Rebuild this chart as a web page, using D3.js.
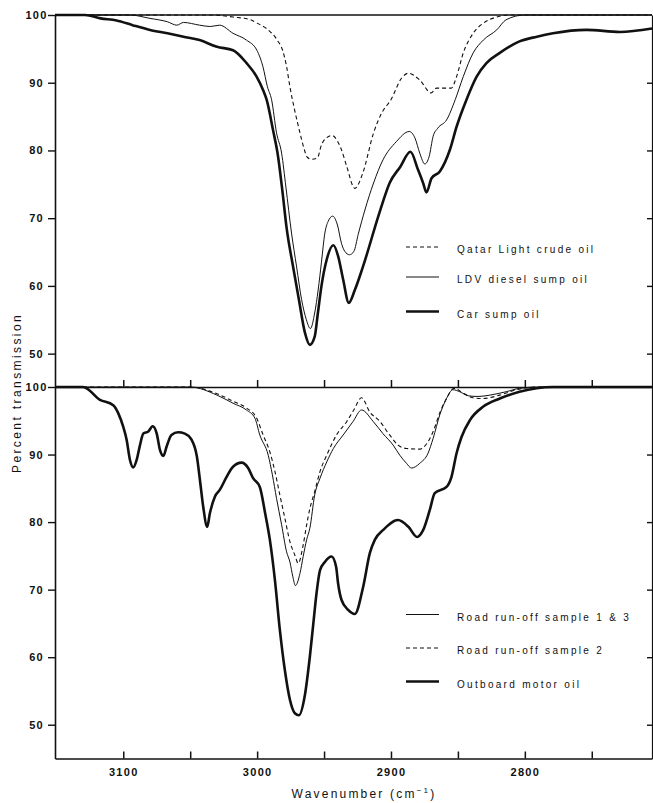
<!DOCTYPE html>
<html>
<head>
<meta charset="utf-8">
<script src="https://cdn.jsdelivr.net/npm/d3@7"></script>
<style>
  body { margin: 0; background: #fff; }
  svg { display: block; }
  text { font-family: "Liberation Sans", Arial, sans-serif; fill: #111; }
</style>
</head>
<body>
<div id="chart"></div>
<script>
// [wavenumber cm-1, percent transmission]
const qatarCrude = [
  [3151, 100], [3033, 100], [3018, 99.7], [3005, 99.3], [3000, 98.8], [2993, 98.0],
  [2985, 96.3], [2981, 94.8], [2978, 92.4], [2975.5, 89.4], [2972, 86.0], [2968, 82.6],
  [2965, 80.3], [2962.5, 79.0], [2959.3, 78.7], [2955, 78.9], [2952, 80.8], [2948, 81.9],
  [2944, 82.2], [2940, 81.4], [2937, 80.1], [2933, 77.6], [2927, 74.4], [2921, 76.7],
  [2913, 82.6], [2907, 85.5], [2900, 87.5], [2892, 90.7], [2887, 91.4], [2878.5, 90.4],
  [2870, 88.5], [2866, 89.2], [2855, 89.2], [2851, 90.9], [2846, 94.4], [2838.6, 97.3],
  [2831, 98.8], [2821, 99.7], [2811, 100], [2705, 100]
];
const ldvDieselSump = [
  [3151, 100], [3095, 100], [3080, 99.5], [3067, 99.0], [3060, 98.5], [3055, 98.9],
  [3043, 98.5], [3035, 98.3], [3028, 98.5], [3018, 97.3], [3008, 96.3], [3000.2, 94.8],
  [2995.7, 92.4], [2992.3, 89.4], [2989.2, 87.5], [2985.5, 82.6], [2981.7, 79.6], [2978.5, 74.6],
  [2974.3, 67.8], [2970.5, 62.8], [2966.8, 58.0], [2963.2, 55.0], [2960.2, 53.7], [2957, 56.0],
  [2954.4, 59.4], [2952, 63.4], [2949.4, 67.8], [2947, 69.5], [2943.6, 70.3], [2940, 69.0],
  [2937, 66.3], [2934.5, 65.1], [2931, 64.6], [2927.7, 65.1], [2924.5, 67.6], [2919.5, 71.2],
  [2913, 75.2], [2906, 78.6], [2896, 81.3], [2886.4, 82.8], [2882, 81.8], [2878.5, 79.6],
  [2874.7, 78.0], [2871.5, 79.1], [2868.5, 82.1], [2865, 83.3], [2858.5, 84.5], [2852, 87.5],
  [2846, 90.9], [2838.6, 94.4], [2831, 96.3], [2821, 97.8], [2814, 99.3], [2800, 100],
  [2705, 100]
];
const carSump = [
  [3151, 100], [3128.6, 100], [3117, 99.5], [3105, 99.2], [3093, 98.5], [3080, 97.8],
  [3067, 97.3], [3055, 96.8], [3043, 96.3], [3030, 95.3], [3018, 94.8], [3007.9, 92.9],
  [3000.4, 90.9], [2995.5, 88.9], [2992.9, 87.5], [2988, 82.9], [2984.5, 79.3], [2981, 73.8],
  [2978, 68.6], [2973.1, 62.8], [2968.8, 58.0], [2964.3, 53.1], [2960.6, 51.3], [2957, 52.5],
  [2954.6, 56.0], [2952, 59.9], [2948, 63.9], [2943, 66.0], [2939.5, 64.4], [2935.7, 60.9],
  [2931.5, 57.5], [2927, 59.4], [2921, 62.8], [2908, 71.2], [2901, 75.2], [2893, 77.6],
  [2885.5, 79.8], [2879.7, 77.1], [2876, 75.2], [2873.5, 73.8], [2869.7, 75.9], [2863.5, 76.9],
  [2856, 80.1], [2851, 83.5], [2843.6, 87.5], [2836, 90.9], [2828.7, 92.9], [2818.7, 94.4],
  [2804, 96.1], [2791, 96.8], [2779, 97.3], [2754, 97.8], [2729, 97.5], [2705, 98.0]
];

const roadRunoff13 = [
  [3151, 100], [3050, 100], [3030, 98.8], [3018, 97.6], [3008, 96.6], [3001.7, 95.4],
  [2998, 92.9], [2991.7, 89.9], [2988.6, 87.0], [2985.5, 83.5], [2981.7, 79.6], [2978, 75.6],
  [2975.5, 74.1], [2973.3, 71.9], [2971.4, 70.6], [2968, 72.4], [2965.6, 74.9], [2963, 77.4],
  [2960.6, 79.1], [2957, 84.0], [2953, 86.5], [2948, 88.9], [2943, 90.9], [2935.7, 92.9],
  [2928.3, 94.9], [2922, 96.6], [2913.3, 94.9], [2906, 93.1], [2898.4, 91.4], [2893.4, 89.9],
  [2888.4, 88.7], [2884.7, 88.0], [2878.5, 88.7], [2872.3, 90.2], [2868.5, 92.4], [2863.5, 95.9],
  [2858.5, 98.3], [2853.8, 99.6], [2848.6, 99.3], [2842.4, 98.7], [2835, 98.6], [2826, 98.8],
  [2814, 99.3], [2804, 99.8], [2789, 100], [2705, 100]
];
const roadRunoff2 = [
  [3151, 100], [3050, 100], [3030, 99.0], [3018, 97.9], [3008, 96.9], [3000.4, 95.4],
  [2995.5, 92.9], [2990.5, 90.4], [2986.7, 87.5], [2983, 84.0], [2979.3, 80.6], [2975.5, 77.1],
  [2971.8, 75.1], [2969.3, 73.9], [2965.6, 76.6], [2963, 79.6], [2960.6, 82.0], [2957, 84.5],
  [2953, 87.5], [2948, 89.9], [2940.7, 92.9], [2933, 94.9], [2927.8, 96.6], [2922, 98.4],
  [2915.8, 96.3], [2908.3, 94.9], [2901, 92.9], [2894.7, 91.4], [2888.4, 90.9], [2878.5, 90.8],
  [2873, 91.7], [2868.5, 93.4], [2863.5, 96.2], [2858.5, 98.3], [2853, 99.8], [2846, 99.1],
  [2838.6, 98.4], [2831, 98.3], [2818.7, 98.8], [2806, 99.6], [2789, 100], [2705, 100]
];
const outboardMotor = [
  [3151, 100], [3130, 100], [3117.4, 98.1], [3107.5, 97.3], [3103.7, 96.1], [3100, 94.1],
  [3097.5, 92.2], [3095, 89.2], [3092.5, 88.1], [3090, 89.2], [3087.5, 91.4], [3085, 93.1],
  [3081.3, 93.4], [3078, 94.2], [3075, 93.1], [3072.6, 90.7], [3070, 89.8], [3067.6, 91.2],
  [3064, 92.9], [3059, 93.3], [3054, 93.1], [3049, 92.2], [3045, 89.7], [3042.7, 86.2],
  [3040.3, 82.3], [3037.3, 79.3], [3035.3, 81.3], [3031.5, 83.8], [3027.8, 84.8], [3022.8, 86.7],
  [3018, 88.2], [3011.6, 88.8], [3006.7, 88.0], [3003, 86.5], [2998, 85.2], [2994, 81.3],
  [2990.5, 77.4], [2986.7, 71.4], [2983, 64.0], [2979.3, 58.1], [2975.5, 53.7], [2971.8, 51.7],
  [2968.8, 51.4], [2964.3, 54.4], [2960.6, 60.1], [2958, 65.0], [2955.6, 69.5], [2953, 72.9],
  [2949.4, 74.1], [2944.4, 74.9], [2941, 73.4], [2939.5, 70.9], [2937, 68.5], [2932, 67.0],
  [2927, 66.4], [2920.8, 70.4], [2915.8, 75.4], [2912, 77.4], [2906, 78.8], [2894.7, 80.3],
  [2887, 79.3], [2880.5, 77.8], [2876, 78.8], [2871, 81.8], [2867.3, 84.3], [2858.5, 85.2],
  [2854.8, 86.7], [2851, 90.2], [2847.3, 92.6], [2841, 95.1], [2831, 97.1], [2818.7, 98.3],
  [2804, 99.3], [2779, 100], [2705, 100]
];

const yTicks = [50, 60, 70, 80, 90, 100];
const yRightTicks = [50, 60, 70, 80, 90];
const xTicks = [3100, 3050, 3000, 2950, 2900, 2850, 2800, 2750];
const xLabels = [3100, 3000, 2900, 2800];

const topLegend = ["Qatar Light crude oil", "LDV diesel sump oil", "Car sump oil"];
const bottomLegend = ["Road run-off sample 1 & 3", "Road run-off sample 2", "Outboard motor oil"];

const width = 653, height = 803;
const left = 55, right = 652;
const ink = "#111";

// line looks
const dashed = { w: 1.1, dash: "4,3" };
const thin = { w: 1, dash: null };
const thick = { w: 2.6, dash: null };

const svg = d3.select("#chart").append("svg")
  .attr("width", width)
  .attr("height", height);

const x = d3.scaleLinear().domain([3151, 2705]).range([left, right]);
const yTop = d3.scaleLinear().domain([45, 100]).range([387.5, 15]);
const yBot = d3.scaleLinear().domain([45, 100]).range([758.5, 387]);

function drawPanel(y, series, legendNames, legendY) {
  let line = d3.line()
    .x(d => x(d[0]))
    .y(d => y(d[1]))
    .curve(d3.curveMonotoneX);

  series.forEach(s => {
    svg.append("path")
      .attr("d", line(s.data))
      .attr("fill", "none")
      .attr("stroke", ink)
      .attr("stroke-width", s.style.w)
      .attr("stroke-dasharray", s.style.dash)
      .attr("stroke-linejoin", "round");
  });

  // left axis, labels centred under the column like the scan
  let ax = svg.append("g")
    .attr("transform", `translate(${left},0)`)
    .call(d3.axisLeft(y).tickValues(yTicks).tickSize(7).tickSizeOuter(0));
  ax.select(".domain").attr("stroke", ink).attr("stroke-width", 1.6);
  ax.selectAll(".tick line").attr("stroke", ink).attr("stroke-width", 1.4);
  ax.selectAll(".tick text")
    .attr("x", -18.5)
    .attr("text-anchor", "middle")
    .style("font-size", "11px")
    .style("font-weight", "bold")
    .style("letter-spacing", "1.2px")
    .attr("fill", ink);

  // right axis, inward ticks only
  let ar = svg.append("g")
    .attr("transform", `translate(${right},0)`)
    .call(d3.axisLeft(y).tickValues(yRightTicks).tickSize(5).tickSizeOuter(0).tickFormat(""));
  ar.select(".domain").attr("stroke", ink).attr("stroke-width", 1.2);
  ar.selectAll(".tick line").attr("stroke", ink).attr("stroke-width", 1.4);

  // legend
  legendNames.forEach((name, i) => {
    let s = series[i];
    let ly = legendY[i];
    svg.append("line")
      .attr("x1", 406).attr("x2", 439)
      .attr("y1", ly).attr("y2", ly)
      .attr("stroke", ink)
      .attr("stroke-width", s.style.w)
      .attr("stroke-dasharray", s.style.dash);
    svg.append("text")
      .attr("x", 457)
      .attr("y", ly + 6)
      .style("font-size", "10px")
      .style("letter-spacing", "2.3px")
      .text(name);
  });
}

drawPanel(yTop, [
  { data: qatarCrude, style: dashed },
  { data: ldvDieselSump, style: thin },
  { data: carSump, style: thick }
], topLegend, [247, 277, 311.5]);

drawPanel(yBot, [
  { data: roadRunoff13, style: thin },
  { data: roadRunoff2, style: dashed },
  { data: outboardMotor, style: thick }
], bottomLegend, [614.5, 648, 681.5]);

// frame top line
svg.append("line")
  .attr("x1", left).attr("x2", right)
  .attr("y1", 15).attr("y2", 15)
  .attr("stroke", ink).attr("stroke-width", 1.6);

// divider: x axis of the upper panel, ticks point up
let mid = svg.append("g")
  .attr("transform", "translate(0,387)")
  .call(d3.axisTop(x).tickValues(xTicks).tickSize(7).tickSizeOuter(0).tickFormat(""));
mid.select(".domain").attr("stroke", ink).attr("stroke-width", 1.6);
mid.selectAll(".tick line").attr("stroke", ink).attr("stroke-width", 1.5);

// bottom x axis
let bx = svg.append("g")
  .attr("transform", "translate(0,758.5)")
  .call(d3.axisBottom(x).tickValues(xTicks).tickSizeInner(-7).tickSizeOuter(0).tickPadding(10)
    .tickFormat(d => xLabels.includes(d) ? d : ""));
bx.select(".domain").attr("stroke", ink).attr("stroke-width", 1.6);
bx.selectAll(".tick line").attr("stroke", ink).attr("stroke-width", 1.5);
bx.selectAll(".tick text")
  .style("font-size", "11px")
  .style("font-weight", "bold")
  .style("letter-spacing", "1.3px")
  .attr("fill", ink);

// axis titles
let xt = svg.append("text")
  .attr("x", 364)
  .attr("y", 798)
  .attr("text-anchor", "middle")
  .style("font-size", "12px")
  .style("letter-spacing", "2.2px");
xt.append("tspan").text("Wavenumber (cm");
xt.append("tspan").attr("dy", -5).style("font-size", "8px").text("−1");
xt.append("tspan").attr("dy", 5).text(")");

svg.append("text")
  .attr("transform", "translate(21,393) rotate(-90)")
  .attr("text-anchor", "middle")
  .style("font-size", "12px")
  .style("letter-spacing", "2.4px")
  .text("Percent transmission");
</script>
</body>
</html>
